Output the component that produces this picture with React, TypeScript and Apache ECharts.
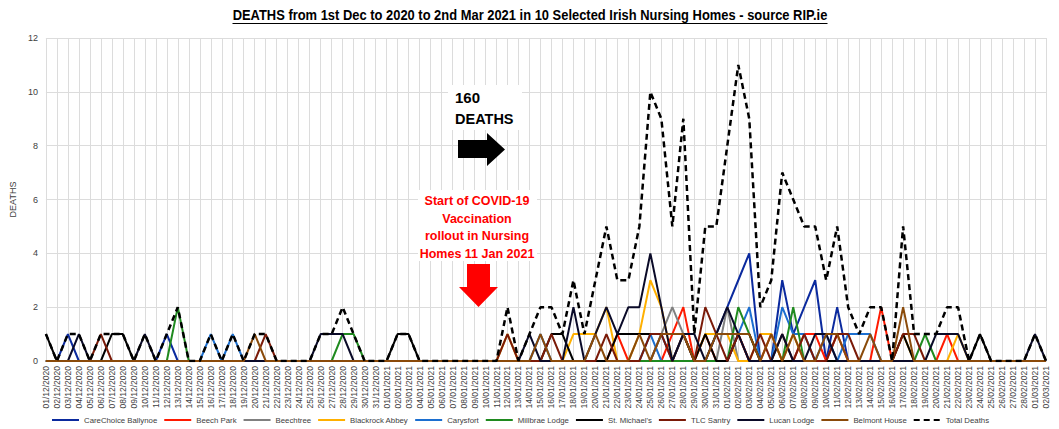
import React, { useEffect, useRef } from "react";
import * as echarts from "echarts";

const dates: string[] = [
  "01/12/2020","02/12/2020","03/12/2020","04/12/2020","05/12/2020","06/12/2020","07/12/2020","08/12/2020","09/12/2020","10/12/2020",
  "11/12/2020","12/12/2020","13/12/2020","14/12/2020","15/12/2020","16/12/2020","17/12/2020","18/12/2020","19/12/2020","20/12/2020",
  "21/12/2020","22/12/2020","23/12/2020","24/12/2020","25/12/2020","26/12/2020","27/12/2020","28/12/2020","29/12/2020","30/12/2020",
  "31/12/2020","01/01/2021","02/01/2021","03/01/2021","04/01/2021","05/01/2021","06/01/2021","07/01/2021","08/01/2021","09/01/2021",
  "10/01/2021","11/01/2021","12/01/2021","13/01/2021","14/01/2021","15/01/2021","16/01/2021","17/01/2021","18/01/2021","19/01/2021",
  "20/01/2021","21/01/2021","22/01/2021","23/01/2021","24/01/2021","25/01/2021","26/01/2021","27/01/2021","28/01/2021","29/01/2021",
  "30/01/2021","31/01/2021","01/02/2021","02/02/2021","03/02/2021","04/02/2021","05/02/2021","06/02/2021","07/02/2021","08/02/2021",
  "09/02/2021","10/02/2021","11/02/2021","12/02/2021","13/02/2021","14/02/2021","15/02/2021","16/02/2021","17/02/2021","18/02/2021",
  "19/02/2021","20/02/2021","21/02/2021","22/02/2021","23/02/2021","24/02/2021","25/02/2021","26/02/2021","27/02/2021","28/02/2021",
  "01/03/2021","02/03/2021",
];

const careChoice = [
  0,0,1,0,0,0,0,0,0,0, 0,1,0,0,0,0,0,0,0,0, 0,0,0,0,0,0,0,0,0,0, 0,0,0,0,0,0,0,0,0,0,
  0,0,0,0,0,0,0,0,0,0, 0,0,0,0,0,0,1,0,0,0, 0,1,2,3,4,0,0,3,1,2, 3,0,2,0,0,0,0,0,0,0,
  0,0,0,0,0,0,0,0,0,0, 0,0,
];
const beechPark = [
  0,0,0,0,0,0,0,0,0,0, 0,0,0,0,0,0,0,0,0,0, 0,0,0,0,0,0,0,0,0,0, 0,0,0,0,0,0,0,0,0,0,
  0,0,0,0,0,0,0,0,0,0, 0,0,1,0,0,0,0,1,2,0, 1,0,0,1,0,0,1,0,0,1, 1,0,1,0,0,0,2,0,0,0,
  0,0,1,0,0,0,0,0,0,0, 0,0,
];
const beechtree = [
  0,0,0,0,0,0,0,0,0,0, 0,0,0,0,0,0,0,0,0,0, 0,0,0,0,0,0,0,0,0,0, 0,0,0,0,0,0,0,0,0,0,
  0,0,0,0,0,0,0,0,0,0, 0,0,0,0,0,0,1,2,1,0, 0,0,2,0,0,0,0,0,0,0, 0,0,0,0,0,0,0,0,0,0,
  0,0,0,0,0,0,0,0,0,0, 0,0,
];
const blackrock = [
  0,0,0,0,0,0,0,0,0,0, 0,0,0,0,0,0,0,0,0,0, 0,0,0,0,0,0,0,0,0,0, 0,0,0,0,0,0,0,0,0,0,
  0,0,1,0,0,0,0,0,1,1, 1,2,0,0,1,3,2,0,1,0, 1,1,1,0,0,1,1,0,1,0, 0,0,0,0,0,0,0,0,1,0,
  0,0,0,1,0,0,0,0,0,0, 0,0,
];
const carysfort = [
  0,0,0,0,0,0,0,0,0,0, 0,0,0,0,0,1,0,1,0,0, 0,0,0,0,0,0,0,0,0,0, 0,0,0,0,0,0,0,0,0,0,
  0,0,0,0,0,1,0,0,0,0, 0,0,0,0,0,1,0,0,1,0, 0,0,0,1,2,0,0,2,1,1, 0,1,0,1,1,1,0,0,0,0,
  0,0,0,0,0,0,0,0,0,0, 0,0,
];
const millbrae = [
  0,0,0,0,0,0,0,0,0,0, 0,0,2,0,0,0,0,0,0,0, 0,0,0,0,0,0,0,1,1,0, 0,0,0,0,0,0,0,0,0,0,
  0,0,0,0,0,0,0,0,0,0, 0,0,0,0,0,0,0,0,0,0, 0,0,0,2,1,0,0,0,2,0, 0,0,0,0,0,0,0,0,0,0,
  1,0,0,0,0,0,0,0,0,0, 0,0,
];
const stMichaels = [
  1,0,0,0,0,0,1,1,0,0, 0,0,0,0,0,0,0,0,0,0, 0,0,0,0,0,0,0,0,0,0, 0,0,1,1,0,0,0,0,0,0,
  0,0,0,0,0,0,1,1,0,0, 0,0,1,1,1,1,1,1,1,0, 1,0,0,1,1,0,0,0,0,0, 0,0,0,0,0,0,0,0,1,0,
  0,0,0,0,0,1,0,0,0,0, 0,0,
];
const tlcSantry = [
  0,0,0,0,0,1,0,0,0,0, 0,0,0,0,0,0,0,0,0,0, 1,0,0,0,0,0,0,0,0,0, 0,0,0,0,0,0,0,0,0,0,
  0,0,1,0,0,0,1,0,0,0, 0,1,0,0,0,1,1,0,1,0, 2,1,0,1,0,1,0,1,0,1, 0,0,1,1,0,0,0,0,1,1,
  0,0,0,0,0,0,0,0,0,0, 0,0,
];
const lucanLodge = [
  0,0,0,1,0,0,0,0,0,1, 0,0,0,0,0,0,0,0,0,0, 0,0,0,0,0,1,1,1,0,0, 0,0,0,0,0,0,0,0,0,0,
  0,0,0,0,1,0,0,0,2,0, 1,2,1,2,2,4,2,0,1,1, 0,1,2,1,0,0,0,1,0,0, 1,1,0,0,0,0,0,0,0,0,
  0,1,1,1,0,0,0,0,0,0, 1,0,
];
const belmont = [
  0,0,0,0,0,0,0,0,0,0, 0,0,0,0,0,0,0,0,0,1, 0,0,0,0,0,0,0,0,0,0, 0,0,0,0,0,0,0,0,0,0,
  0,0,0,0,0,1,0,0,0,0, 1,0,0,0,1,0,1,1,1,0, 0,1,1,1,1,0,1,0,1,0, 0,1,1,0,0,1,0,0,2,0,
  0,0,0,0,0,0,0,0,0,0, 0,0,
];
const totalDeaths = [
  1,0,1,1,0,1,1,1,0,1, 0,1,2,0,0,1,0,1,0,1, 1,0,0,0,0,1,1,2,1,0, 0,0,1,1,0,0,0,0,0,0,
  0,0,2,0,1,2,2,1,3,1, 3,5,3,3,5,10,9,5,9,1, 5,5,8,11,9,2,3,7,6,5, 5,3,5,2,1,2,2,0,5,1,
  1,1,2,2,0,1,0,0,0,0, 1,0,
];

const homeNames = [
  "CareChoice Ballynoe","Beech Park","Beechtree","Blackrock Abbey","Carysfort",
  "Millbrae Lodge","St. Michael's","TLC Santry","Lucan Lodge","Belmont House",
];
const homeData = [careChoice, beechPark, beechtree, blackrock, carysfort, millbrae, stMichaels, tlcSantry, lucanLodge, belmont];
const homeColors = ["#0B2A9E","#FF1A00","#808080","#FFB000","#1C6FD0","#1F8A1F","#000000","#7A1A08","#0A0A28","#8A4A0A"];

const titleText = "DEATHS from 1st Dec to 2020 to 2nd Mar 2021 in 10 Selected Irish Nursing Homes - source RIP.ie";
const annotationLines = ["Start of COVID-19", "Vaccination", "rollout in Nursing", "Homes 11 Jan 2021"];

function measure(text: string, font: string): number {
  const ctx = document.createElement("canvas").getContext("2d");
  if (!ctx) return text.length * 7;
  ctx.font = font;
  return ctx.measureText(text).width;
}

export default function App() {
  const ref = useRef<HTMLDivElement>(null);
  useEffect(() => {
    document.body.style.margin = "0";
    if (!ref.current) return;
    const chart = echarts.init(ref.current, null, { renderer: "svg" });
    const FF = "Liberation Sans";
    const titleSize = 14;
    const titleW = measure(titleText, `bold ${titleSize}px "${FF}"`);
    const titleTarget = 595;
    const titleScale = titleTarget / titleW;

    const series: any[] = homeNames.map((n, k) => ({
      name: n,
      type: "line",
      data: homeData[k],
      symbol: "none",
      lineStyle: { width: 2, color: homeColors[k] },
      itemStyle: { color: homeColors[k] },
      z: 2,
    }));
    series.push({
      name: "Total Deaths",
      type: "line",
      data: totalDeaths,
      symbol: "none",
      lineStyle: { width: 2.5, color: "#000", type: [6, 4] },
      itemStyle: { color: "#000" },
      label: { show: true, position: "top", fontSize: 9, color: "#404040", distance: 4, fontFamily: FF },
      z: 5,
    });

    const annotationGraphics: any[] = annotationLines.map((t, i) => ({
      type: "text",
      x: 477,
      y: 201 + i * 17.5,
      z: 101,
      style: {
        text: t, fontSize: 12.5, fontWeight: "bold", fill: "#FF0000",
        align: "center", verticalAlign: "middle", fontFamily: FF,
      },
    }));

    chart.setOption({
      animation: false,
      backgroundColor: "#fff",
      textStyle: { fontFamily: FF },
      grid: { left: 35, right: 13, top: 38, bottom: 68, containLabel: false },
      legend: {
        bottom: 0,
        left: 46,
        itemWidth: 27,
        itemHeight: 8,
        itemGap: 6,
        textStyle: { fontSize: 7.8, color: "#404040", fontFamily: FF },
        itemStyle: { opacity: 0 },
        data: [...homeNames, "Total Deaths"],
      },
      xAxis: {
        type: "category",
        boundaryGap: false,
        data: dates,
        axisLine: { lineStyle: { color: "#bfbfbf" } },
        axisTick: { show: false },
        axisLabel: { rotate: 90, interval: 0, fontSize: 8.5, color: "#404040", margin: 5 },
        splitLine: { show: true, lineStyle: { color: "#dcdcdc", width: 1 } },
      },
      yAxis: {
        type: "value",
        min: 0,
        max: 12,
        interval: 2,
        name: "DEATHS",
        nameLocation: "middle",
        nameGap: 22,
        nameRotate: 90,
        nameTextStyle: { fontSize: 9, color: "#404040" },
        axisLine: { show: false },
        axisTick: { show: false },
        axisLabel: { fontSize: 9, color: "#404040", margin: 8 },
        splitLine: { lineStyle: { color: "#dcdcdc", width: 1 } },
      },
      graphic: {
        elements: [
          {
            type: "text", x: 530, y: 15, scaleX: titleScale, z: 100,
            style: {
              text: titleText, fontSize: titleSize, fontWeight: "bold", fill: "#000",
              fontFamily: FF, align: "center", verticalAlign: "middle",
            },
          },
          {
            type: "line", z: 100,
            shape: { x1: 530 - titleTarget / 2, y1: 23.5, x2: 530 + titleTarget / 2, y2: 23.5 },
            style: { stroke: "#000", lineWidth: 1.2 },
          },
          { type: "rect", z: 100, shape: { x: 448, y: 85, width: 74, height: 45 }, style: { fill: "#fff" } },
          {
            type: "text", x: 455, y: 97, z: 101,
            style: { text: "160", fontSize: 15, fontWeight: "bold", fill: "#000", fontFamily: FF, verticalAlign: "middle" },
          },
          {
            type: "text", x: 455, y: 119, z: 101,
            style: { text: "DEATHS", fontSize: 14.5, fontWeight: "bold", fill: "#000", fontFamily: FF, verticalAlign: "middle" },
          },
          {
            type: "polygon", z: 101,
            shape: { points: [[458, 140], [487, 140], [487, 133], [505, 149.5], [487, 166], [487, 158], [458, 158]] },
            style: { fill: "#000" },
          },
          { type: "rect", z: 100, shape: { x: 418, y: 190, width: 119, height: 71 }, style: { fill: "#fff" } },
          ...annotationGraphics,
          {
            type: "polygon", z: 101,
            shape: { points: [[467, 264], [490, 264], [490, 287], [498, 287], [478.5, 307], [459, 287], [467, 287]] },
            style: { fill: "#FF0000" },
          },
        ],
      },
      series,
    });
    return () => chart.dispose();
  }, []);
  return <div ref={ref} style={{ width: 1059, height: 429 }} />;
}
